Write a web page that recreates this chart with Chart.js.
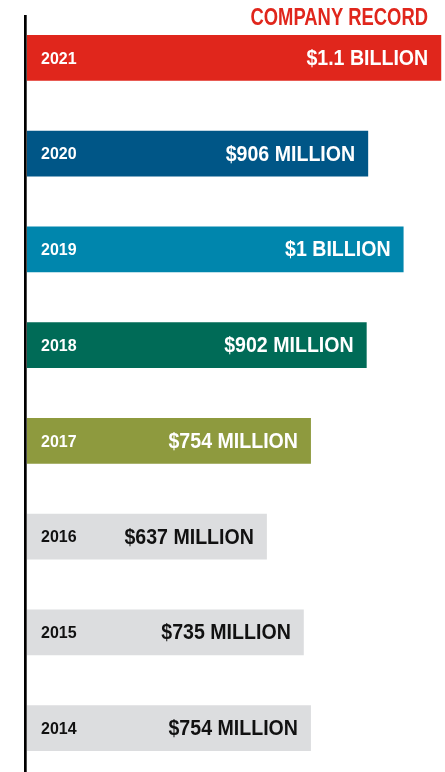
<!DOCTYPE html>
<html>
<head>
<meta charset="utf-8">
<script src="https://cdn.jsdelivr.net/npm/chart.js@4/dist/chart.umd.min.js"></script>
<style>
  html, body { margin: 0; padding: 0; background: #fff; overflow: hidden; }
  #wrap { position: relative; width: 445px; height: 780px; }
</style>
</head>
<body>
<div id="wrap"><canvas id="chart"></canvas></div>
<script>
  const years = ["2021", "2020", "2019", "2018", "2017", "2016", "2015", "2014"];
  const revenue = [1100, 906, 1000, 902, 754, 637, 735, 754];
  const valueLabels = ["$1.1 BILLION", "$906 MILLION", "$1 BILLION", "$902 MILLION",
    "$754 MILLION", "$637 MILLION", "$735 MILLION", "$754 MILLION"];
  const headline = "COMPANY RECORD";

  const barColors = ["#e0261c", "#005687", "#0086ad", "#006b57", "#8e9a3e", "#dcdddf", "#dcdddf", "#dcdddf"];
  const textColors = ["#fff", "#fff", "#fff", "#fff", "#fff", "#111", "#111", "#111"];
  const FONT = '"Liberation Sans", Arial, sans-serif';

  // no condensed face installed, so squeeze the bold sans horizontally
  function condensedText(ctx, text, x, y, size, squeeze, align) {
    ctx.save();
    ctx.translate(x, y);
    ctx.scale(squeeze, 1);
    ctx.font = "bold " + size + "px " + FONT;
    ctx.textAlign = align;
    ctx.fillText(text, 0, 0);
    ctx.restore();
  }

  // vertical rule on the left plus the year / amount text inside each bar
  const barText = {
    id: "barText",
    afterDatasetsDraw(chart) {
      const ctx = chart.ctx;
      const area = chart.chartArea;
      const meta = chart.getDatasetMeta(0);
      ctx.save();

      ctx.fillStyle = "#000";
      ctx.fillRect(area.left - 3, 15, 2.7, chart.height - 15);

      ctx.textBaseline = "middle";
      meta.data.forEach((bar, i) => {
        ctx.fillStyle = textColors[i];
        condensedText(ctx, years[i], area.left + 14, bar.y + 1, 17, 0.94, "left");
        condensedText(ctx, valueLabels[i], bar.x - 13, bar.y + 1, 22, 0.89, "right");
      });

      ctx.fillStyle = "#e0261c";
      ctx.textBaseline = "alphabetic";
      condensedText(ctx, headline, 428, 25, 23, 0.8, "right");
      ctx.restore();
    }
  };

  new Chart(document.getElementById("chart"), {
    type: "bar",
    data: {
      labels: years,
      datasets: [{
        data: revenue,
        backgroundColor: barColors,
        borderWidth: 0,
        barPercentage: 0.96,
        categoryPercentage: 0.5
      }]
    },
    options: {
      indexAxis: "y",
      responsive: true,
      maintainAspectRatio: false,
      animation: false,
      layout: { padding: { top: 10, bottom: 4, left: 27, right: 0 } },
      plugins: { legend: { display: false }, tooltip: { enabled: false } },
      scales: {
        x: { display: false, min: 0, max: 1110 },
        y: { display: false }
      }
    },
    plugins: [barText]
  });
</script>
</body>
</html>
